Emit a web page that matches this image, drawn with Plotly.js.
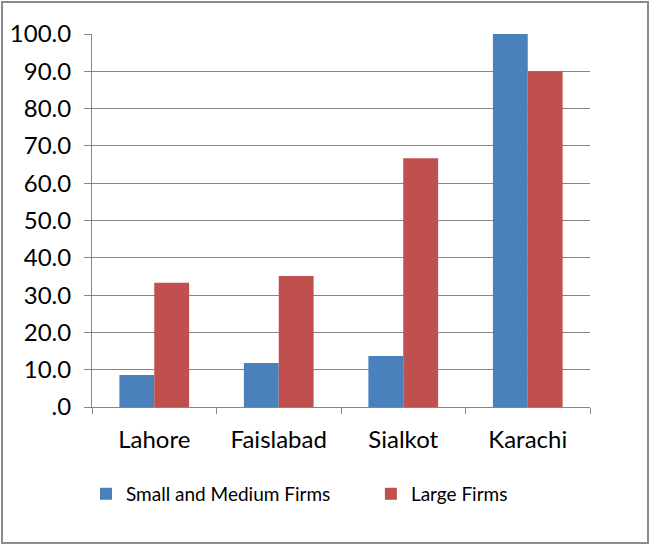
<!DOCTYPE html>
<html><head><meta charset="utf-8">
<script src="https://cdn.plot.ly/plotly-3.0.1.min.js"></script>
<style>
html,body{margin:0;padding:0;background:#fff;}
#wrap{position:absolute;left:1px;top:1px;width:644px;height:539px;border:2px solid #8c8c8c;overflow:hidden;}
#chart{position:absolute;left:-3px;top:-3px;width:650px;height:544px;}
</style></head>
<body><div id="wrap"><div id="chart"></div></div>
<script>
const categories = ["Lahore", "Faislabad", "Sialkot", "Karachi"];
const smallMedium = [8.6, 11.8, 13.7, 100.0];
const large = [33.3, 35.1, 66.7, 90.0];
const yTickVals = [0, 10, 20, 30, 40, 50, 60, 70, 80, 90, 100];
const yTickText = [".0", "10.0", "20.0", "30.0", "40.0", "50.0", "60.0", "70.0", "80.0", "90.0", "100.0"];

const traces = [
  {type: "bar", name: "Small and Medium Firms", x: categories, y: smallMedium,
   legend: "legend", marker: {color: "#4a81bd", line: {width: 0}}},
  {type: "bar", name: "Large Firms", x: categories, y: large,
   legend: "legend2", marker: {color: "#c0504d", line: {width: 0}}}
];
const legendFont = {size: 19, color: "#000"};
const layout = {
  width: 650, height: 544,
  margin: {l: 92, r: 60, t: 34, b: 137},
  paper_bgcolor: "#fff", plot_bgcolor: "#fff",
  barmode: "group", bargap: 0.44, bargroupgap: 0,
  font: {family: "Lato, 'Open Sans', sans-serif", color: "#000"},
  xaxis: {type: "category", showline: true, linecolor: "#868686", linewidth: 1,
    ticks: "outside", tickson: "boundaries", ticklen: 6, tickcolor: "#868686",
    ticklabelstandoff: 11,
    tickfont: {size: 24, color: "#000"}, showgrid: false},
  yaxis: {range: [0, 100], tickvals: yTickVals, ticktext: yTickText,
    showline: true, linecolor: "#868686", linewidth: 1,
    ticks: "outside", ticklen: 7, tickcolor: "#868686", ticklabelstandoff: 8,
    showgrid: true, gridcolor: "#868686", gridwidth: 1, zeroline: false,
    tickfont: {size: 24, color: "#000"}},
  showlegend: true,
  legend: {orientation: "h", x: -0.012, xanchor: "left", y: -0.233, yanchor: "middle",
    font: legendFont, itemwidth: 30},
  legend2: {orientation: "h", x: 0.56, xanchor: "left", y: -0.233, yanchor: "middle",
    font: legendFont, itemwidth: 30}
};
Plotly.newPlot("chart", traces, layout, {displayModeBar: false, staticPlot: true});
</script></body></html>
